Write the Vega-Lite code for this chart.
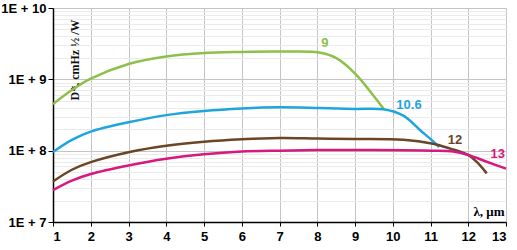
{
  "$schema": "https://vega.github.io/schema/vega-lite/v6.json",
  "autosize": "none",
  "width": 453,
  "height": 214,
  "padding": {"left": 53, "top": 8, "right": 11, "bottom": 28},
  "background": "white",
  "config": {"view": {"stroke": null}},
  "datasets": {
    "curves": [
      {"s": "9", "x": 1, "y": 4.5e8}, {"s": "9", "x": 1.5, "y": 7.1e8}, {"s": "9", "x": 2, "y": 1.02e9},
      {"s": "9", "x": 3, "y": 1.64e9}, {"s": "9", "x": 4, "y": 2.09e9}, {"s": "9", "x": 5, "y": 2.34e9},
      {"s": "9", "x": 6, "y": 2.42e9}, {"s": "9", "x": 7, "y": 2.45e9}, {"s": "9", "x": 8.05, "y": 2.38e9},
      {"s": "9", "x": 8.52, "y": 1.97e9}, {"s": "9", "x": 9.04, "y": 1.15e9}, {"s": "9", "x": 9.48, "y": 6.0e8},
      {"s": "9", "x": 9.77, "y": 3.8e8},
      {"s": "10.6", "x": 1, "y": 9.6e7}, {"s": "10.6", "x": 1.5, "y": 1.42e8}, {"s": "10.6", "x": 2, "y": 1.85e8},
      {"s": "10.6", "x": 3, "y": 2.5e8}, {"s": "10.6", "x": 4, "y": 3.15e8}, {"s": "10.6", "x": 5, "y": 3.6e8},
      {"s": "10.6", "x": 6, "y": 3.9e8}, {"s": "10.6", "x": 7, "y": 4.05e8}, {"s": "10.6", "x": 8.07, "y": 3.95e8},
      {"s": "10.6", "x": 9, "y": 3.85e8}, {"s": "10.6", "x": 9.75, "y": 3.8e8}, {"s": "10.6", "x": 10.28, "y": 3.1e8},
      {"s": "10.6", "x": 10.72, "y": 1.95e8}, {"s": "10.6", "x": 11.03, "y": 1.41e8}, {"s": "10.6", "x": 11.23, "y": 1.12e8},
      {"s": "12", "x": 1, "y": 3.7e7}, {"s": "12", "x": 1.5, "y": 5.4e7}, {"s": "12", "x": 2, "y": 6.9e7},
      {"s": "12", "x": 3, "y": 9.5e7}, {"s": "12", "x": 4, "y": 1.17e8}, {"s": "12", "x": 5, "y": 1.33e8},
      {"s": "12", "x": 6, "y": 1.44e8}, {"s": "12", "x": 7, "y": 1.5e8}, {"s": "12", "x": 8, "y": 1.48e8},
      {"s": "12", "x": 9, "y": 1.46e8}, {"s": "12", "x": 10.28, "y": 1.42e8}, {"s": "12", "x": 11.03, "y": 1.26e8},
      {"s": "12", "x": 11.52, "y": 1.07e8}, {"s": "12", "x": 12, "y": 8.7e7}, {"s": "12", "x": 12.22, "y": 7.0e7},
      {"s": "12", "x": 12.49, "y": 4.8e7},
      {"s": "13", "x": 1, "y": 2.8e7}, {"s": "13", "x": 1.5, "y": 3.8e7}, {"s": "13", "x": 2, "y": 4.7e7},
      {"s": "13", "x": 3, "y": 6.2e7}, {"s": "13", "x": 4, "y": 7.7e7}, {"s": "13", "x": 5, "y": 8.9e7},
      {"s": "13", "x": 6, "y": 9.7e7}, {"s": "13", "x": 7, "y": 1.0e8}, {"s": "13", "x": 8, "y": 1.02e8},
      {"s": "13", "x": 9.4, "y": 1.02e8}, {"s": "13", "x": 11.03, "y": 1.0e8}, {"s": "13", "x": 11.6, "y": 9.7e7},
      {"s": "13", "x": 12, "y": 8.7e7}, {"s": "13", "x": 12.49, "y": 7.0e7}, {"s": "13", "x": 13, "y": 5.6e7}
    ],
    "labels": [
      {"s": "9", "x": 8.2, "y": 3.2e9},
      {"s": "10.6", "x": 10.43, "y": 4.3e8},
      {"s": "12", "x": 11.65, "y": 1.41e8},
      {"s": "13", "x": 12.78, "y": 8.9e7}
    ]
  },
  "encoding": {
    "x": {
      "field": "x", "type": "quantitative",
      "scale": {"domain": [1, 13], "nice": false, "zero": false},
      "axis": {
        "values": [1,2,3,4,5,6,7,8,9,10,11,12,13],
        "title": "λ, μm",
        "titleFont": "Liberation Serif", "titleFontSize": 13, "titleFontWeight": "bold", "titleColor": "#000",
        "titleX": 451, "titleY": -4, "titleAlign": "right", "titleBaseline": "bottom", "titleAnchor": null,
        "labelFont": "Liberation Sans", "labelFontSize": 13, "labelFontWeight": "bold", "labelColor": "#000",
        "labelPadding": 4, "tickSize": 4, "tickColor": "#000",
        "domainColor": "#000", "domainWidth": 1.5,
        "grid": true, "gridColor": "#c4c4c4", "gridWidth": 1
      }
    },
    "y": {
      "field": "y", "type": "quantitative",
      "scale": {"type": "log", "domain": [1e7, 1e10], "nice": false},
      "axis": {
        "values": [1e7,2e7,3e7,4e7,5e7,6e7,7e7,8e7,9e7,1e8,2e8,3e8,4e8,5e8,6e8,7e8,8e8,9e8,1e9,2e9,3e9,4e9,5e9,6e9,7e9,8e9,9e9,1e10],
        "labelExpr": "abs(round(log(datum.value)/LN10) - log(datum.value)/LN10) < 1e-6 ? '1E + ' + round(log(datum.value)/LN10) : ''",
        "title": "D*, cmHz ½ /W",
        "titleFont": "Liberation Serif", "titleFontSize": 12, "titleFontWeight": "bold", "titleColor": "#111",
        "titleAngle": 270, "titleX": 21, "titleY": 11, "titleAlign": "right", "titleBaseline": "middle", "titleAnchor": null,
        "labelFont": "Liberation Sans", "labelFontSize": 13, "labelFontWeight": "bold", "labelColor": "#000",
        "labelPadding": 2, "tickSize": 5, "tickColor": "#000",
        "tickOpacity": {"condition": {"test": "abs(round(log(datum.value)/LN10) - log(datum.value)/LN10) < 1e-6", "value": 1}, "value": 0},
        "domainColor": "#000", "domainWidth": 1.5,
        "grid": true,
        "gridColor": {"condition": {"test": "abs(round(log(datum.value)/LN10) - log(datum.value)/LN10) < 1e-6", "value": "#c4c4c4"}, "value": "#ebebeb"},
        "gridWidth": 1
      }
    },
    "color": {
      "field": "s", "type": "nominal",
      "scale": {"domain": ["9", "10.6", "12", "13"], "range": ["#8dc04b", "#1ea5dd", "#6b4526", "#d6187f"]},
      "legend": null
    }
  },
  "layer": [
    {
      "data": {"name": "curves"},
      "mark": {"type": "line", "interpolate": "catmull-rom", "strokeWidth": 2.5}
    },
    {
      "data": {"name": "labels"},
      "mark": {"type": "text", "font": "Liberation Sans", "fontSize": 13, "fontWeight": "bold", "align": "center", "baseline": "middle"},
      "encoding": {"text": {"field": "s"}}
    }
  ]
}
